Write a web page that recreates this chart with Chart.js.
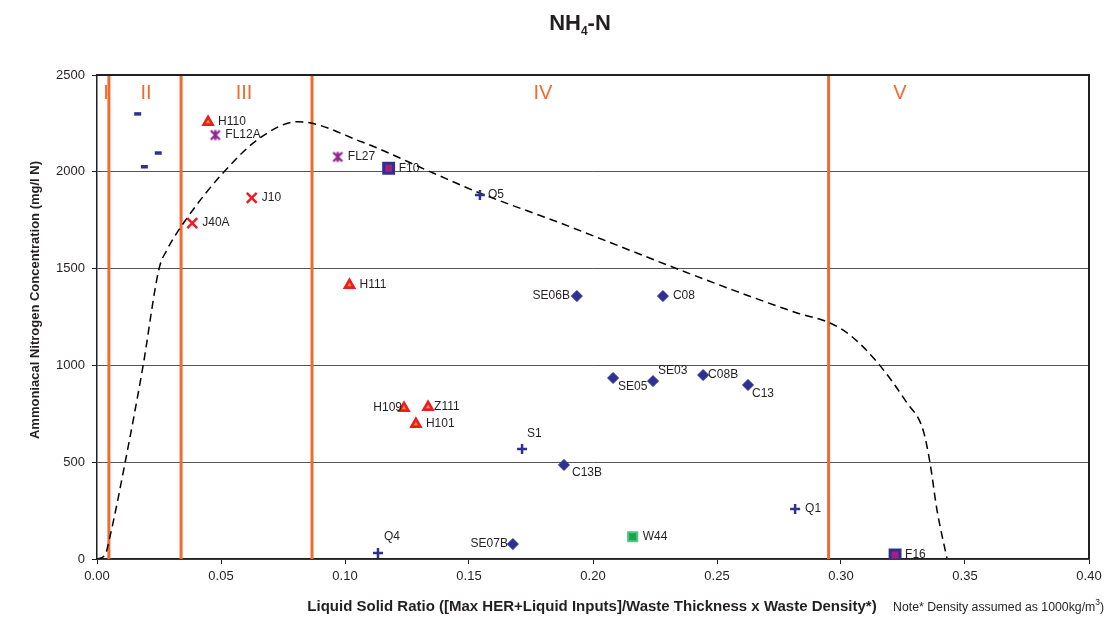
<!DOCTYPE html>
<html>
<head>
<meta charset="utf-8">
<title>NH4-N</title>
<script src="https://cdn.jsdelivr.net/npm/chart.js@4.4.1/dist/chart.umd.min.js"></script>
<style>
  html, body { margin: 0; padding: 0; background: #fff; }
  #wrap { width: 1109px; height: 620px; }
</style>
</head>
<body>
<div id="wrap"><canvas id="myChart" width="1109" height="620"></canvas></div>
<script>
// x = liquid/solid ratio, y = NH4-N (mg/l N)
const diamondNames = ["SE06B", "C08", "SE05", "SE03", "C08B", "C13", "C13B", "SE07B"];
const diamondX = [0.1935, 0.2282, 0.2081, 0.2242, 0.2444, 0.2625, 0.1883, 0.1677];
const diamondY = [1358, 1358, 935, 919, 950, 899, 486, 77];

const plusNames = ["O5", "S1", "Q4", "Q1"];
const plusX = [0.1544, 0.1714, 0.1133, 0.2815];
const plusY = [1880, 568, 31, 258];

const triangleNames = ["H110", "H111", "H109", "Z111", "H101"];
const triangleX = [0.0448, 0.1018, 0.1238, 0.1335, 0.1286];
const triangleY = [2257, 1415, 780, 785, 697];

const crossNames = ["J10", "J40A"];
const crossX = [0.0624, 0.0384];
const crossY = [1865, 1735];

const starNames = ["FL12A", "FL27"];
const starX = [0.0477, 0.0971];
const starY = [2190, 2077];

const squareNames = ["F10", "F16"];
const squareX = [0.1176, 0.3218];
const squareY = [2018, 21];

const greenNames = ["W44"];
const greenX = [0.2160];
const greenY = [115];

const dashX = [0.0164, 0.0191, 0.0247];
const dashY = [2299, 2026, 2097];

// envelope curve
const curveX = [0, 0.0032, 0.0052, 0.0113, 0.0185, 0.0250, 0.0282, 0.0363, 0.0508, 0.0657, 0.0810,
  0.1067, 0.1355, 0.1544, 0.1867, 0.2351, 0.2565, 0.2823, 0.2956, 0.3036, 0.3145, 0.3266,
  0.3331, 0.3359, 0.3387, 0.3427];
const curveY = [0, 20, 114, 496, 992, 1498, 1596, 1761, 1994, 2175, 2259,
  2155, 1994, 1890, 1736, 1493, 1389, 1271, 1219, 1157, 1018, 806,
  666, 496, 253, 5];

// phase boundaries and phase labels
const boundaryX = [0.0048, 0.0339, 0.0867, 0.295];
const phaseNames = ["I", "II", "III", "IV", "V"];
const phaseX = [0.0036, 0.0198, 0.0593, 0.1798, 0.3238];
const phaseY = 2407;

const xTicks = [0, 0.05, 0.1, 0.15, 0.2, 0.25, 0.3, 0.35, 0.4];
const yTicks = [0, 500, 1000, 1500, 2000, 2500];

const NAVY = "#2E3192";
const ORANGE = "#F26B2E";
const FONT = '"Liberation Sans", Arial, sans-serif';

function pts(xs, ys) {
  return xs.map((x, i) => ({ x: x, y: ys[i] }));
}

// asterisk-style marker: an X with a vertical bar
function starMarker(color) {
  const c = document.createElement("canvas");
  c.width = 13;
  c.height = 13;
  const g = c.getContext("2d");
  g.strokeStyle = color;
  g.lineWidth = 2.4;
  g.beginPath();
  g.moveTo(2, 2); g.lineTo(11, 11);
  g.moveTo(11, 2); g.lineTo(2, 11);
  g.moveTo(6.5, 1.5); g.lineTo(6.5, 11.5);
  g.stroke();
  return c;
}

// where each point label sits relative to its marker: [dx, dy, align]
const labelPlace = {
  SE06B: [-7, 0, "right"],
  SE05: [5, 9, "left"],
  SE03: [5, -10, "left"],
  "C08B": [5, 0, "left"],
  C13: [4, 9, "left"],
  H109: [-2, 0, "right"],
  Z111: [6, 0, "left"],
  S1: [5, -15, "left"],
  C13B: [8, 8, "left"],
  Q4: [6, -16, "left"],
  SE07B: [-5, 0, "right"],
  O5: [8, 0, "left"],
};

const decorations = {
  id: "decorations",
  afterDatasetsDraw(chart) {
    const ctx = chart.ctx;
    ctx.save();
    ctx.font = "12px " + FONT;
    ctx.fillStyle = "#231F20";
    ctx.textBaseline = "middle";
    chart.data.datasets.forEach((ds, di) => {
      if (!ds.names) return;
      const meta = chart.getDatasetMeta(di);
      meta.data.forEach((el, i) => {
        const name = ds.names[i];
        const p = labelPlace[name] || [10, 0, "left"];
        ctx.textAlign = p[2];
        ctx.fillText(name, el.x + p[0], el.y + p[1]);
      });
    });

    // phase labels
    const xs = chart.scales.x, ys = chart.scales.y;
    ctx.font = "20px " + FONT;
    ctx.fillStyle = ORANGE;
    ctx.textAlign = "center";
    phaseNames.forEach((n, i) => {
      ctx.fillText(n, xs.getPixelForValue(phaseX[i]), ys.getPixelForValue(phaseY));
    });
    ctx.restore();
  },
  afterDraw(chart) {
    const ctx = chart.ctx;
    const a = chart.chartArea;
    ctx.save();

    // top and right frame
    ctx.strokeStyle = "#231F20";
    ctx.lineWidth = 2;
    ctx.beginPath();
    ctx.moveTo(a.left, a.top);
    ctx.lineTo(a.right, a.top);
    ctx.lineTo(a.right, a.bottom);
    ctx.stroke();

    ctx.fillStyle = "#231F20";
    ctx.textBaseline = "alphabetic";
    ctx.textAlign = "left";

    // title NH4-N
    const big = "bold 22px " + FONT, small = "bold 12px " + FONT;
    ctx.font = big;
    const w1 = ctx.measureText("NH").width, w3 = ctx.measureText("-N").width;
    ctx.font = small;
    const w2 = ctx.measureText("4").width;
    let tx = 580 - (w1 + w2 + w3) / 2;
    ctx.font = big;
    ctx.fillText("NH", tx, 30);
    ctx.font = small;
    ctx.fillText("4", tx + w1, 35);
    ctx.font = big;
    ctx.fillText("-N", tx + w1 + w2, 30);

    // axis titles
    ctx.textBaseline = "middle";
    ctx.font = "bold 15px " + FONT;
    ctx.textAlign = "center";
    ctx.fillText("Liquid Solid Ratio ([Max HER+Liquid Inputs]/Waste Thickness x Waste Density*)", 592, 607);

    ctx.font = "bold 13px " + FONT;
    ctx.save();
    ctx.translate(35, 300);
    ctx.rotate(-Math.PI / 2);
    ctx.fillText("Ammoniacal Nitrogen Concentration (mg/l N)", 0, 0);
    ctx.restore();

    // footnote with superscript
    ctx.textAlign = "left";
    ctx.font = "12.3px " + FONT;
    const note = "Note* Density assumed as 1000kg/m";
    let nx = 893;
    ctx.fillText(note, nx, 608);
    nx += ctx.measureText(note).width;
    ctx.font = "8.5px " + FONT;
    ctx.fillText("3", nx, 603);
    nx += ctx.measureText("3").width;
    ctx.font = "12.3px " + FONT;
    ctx.fillText(")", nx, 608);

    ctx.restore();
  },
};

const datasets = [
  {
    names: diamondNames,
    data: pts(diamondX, diamondY),
    pointStyle: "rectRot",
    pointRadius: 5.5,
    backgroundColor: NAVY,
    borderColor: NAVY,
    borderWidth: 1,
  },
  {
    names: plusNames,
    data: pts(plusX, plusY),
    pointStyle: "cross",
    pointRadius: 5,
    borderColor: NAVY,
    borderWidth: 2.5,
  },
  {
    names: triangleNames,
    data: pts(triangleX, triangleY),
    pointStyle: "triangle",
    pointRadius: 5.2,
    backgroundColor: "#F7941D",
    borderColor: "#ED1C24",
    borderWidth: 2.6,
  },
  {
    names: crossNames,
    data: pts(crossX, crossY),
    pointStyle: "crossRot",
    pointRadius: 7,
    borderColor: "#ED1C24",
    borderWidth: 2.5,
  },
  {
    names: starNames,
    data: pts(starX, starY),
    pointStyle: starMarker("#92278F"),
    pointRadius: 6,
  },
  {
    names: squareNames,
    data: pts(squareX, squareY),
    pointStyle: "rect",
    pointRadius: 7,
    backgroundColor: "#A3207E",
    borderColor: NAVY,
    borderWidth: 3,
  },
  {
    names: greenNames,
    data: pts(greenX, greenY),
    pointStyle: "rect",
    pointRadius: 6.5,
    backgroundColor: "#11A84E",
    borderColor: "#5CC27F",
    borderWidth: 2,
  },
  {
    data: pts(dashX, dashY),
    pointStyle: "line",
    pointRadius: 3.5,
    borderColor: NAVY,
    borderWidth: 3.5,
  },
  {
    type: "line",
    data: pts(curveX, curveY),
    showLine: true,
    borderColor: "#000",
    borderWidth: 1.5,
    borderDash: [8, 5],
    pointRadius: 0,
    cubicInterpolationMode: "monotone",
    fill: false,
  },
];

boundaryX.forEach((b) => {
  datasets.push({
    type: "line",
    data: [{ x: b, y: 0 }, { x: b, y: 2500 }],
    showLine: true,
    borderColor: ORANGE,
    borderWidth: 3,
    pointRadius: 0,
    fill: false,
  });
});

const ctx = document.getElementById("myChart").getContext("2d");
const myChart = new Chart(ctx, {
  type: "scatter",
  data: { datasets: datasets },
  plugins: [decorations],
  options: {
    responsive: false,
    animation: false,
    layout: { autoPadding: false, padding: { top: 75, right: 20, left: 0, bottom: 0 } },
    plugins: {
      legend: { display: false },
      tooltip: { enabled: false },
      title: { display: false },
    },
    scales: {
      x: {
        type: "linear",
        min: 0,
        max: 0.4,
        afterBuildTicks: (scale) => { scale.ticks = xTicks.map((v) => ({ value: v })); },
        afterFit: (scale) => { scale.height = 61; },
        ticks: {
          padding: 5,
          color: "#231F20",
          font: { family: FONT, size: 13 },
          callback: (v) => Number(v).toFixed(2),
        },
        grid: { drawOnChartArea: false, drawTicks: true, tickLength: 5, tickColor: "#231F20" },
        border: { display: true, color: "#231F20", width: 1.5 },
      },
      y: {
        type: "linear",
        min: 0,
        max: 2500,
        afterBuildTicks: (scale) => { scale.ticks = yTicks.map((v) => ({ value: v })); },
        afterFit: (scale) => { scale.width = 97; },
        ticks: {
          padding: 7,
          color: "#231F20",
          font: { family: FONT, size: 13 },
          callback: (v) => String(v),
        },
        grid: { color: "#555", lineWidth: 1, tickLength: 5, tickColor: "#231F20" },
        border: { display: true, color: "#231F20", width: 1.5 },
      },
    },
  },
});
</script>
</body>
</html>
